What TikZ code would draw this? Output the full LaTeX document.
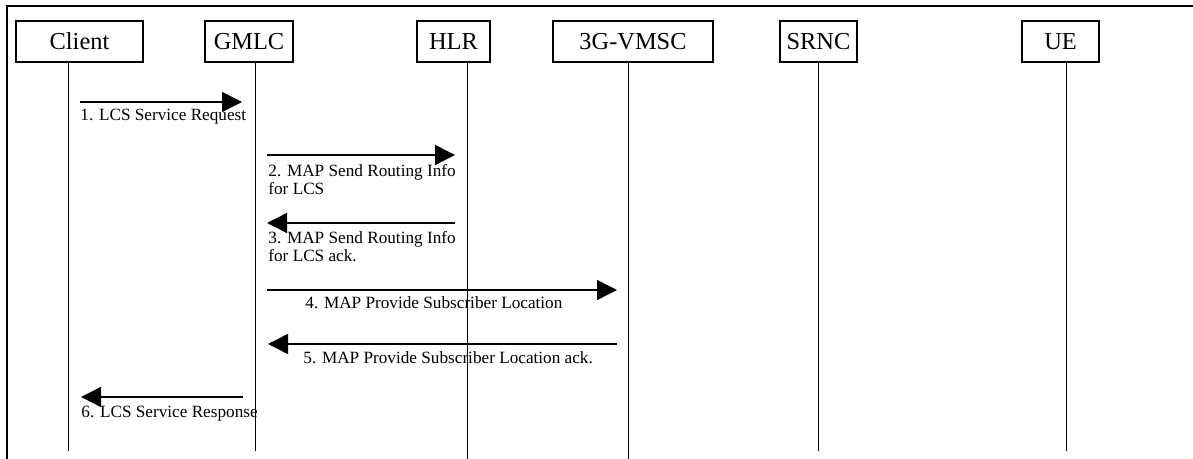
\documentclass[tikz,border=0pt]{standalone}
\usepackage{fontspec}
\setmainfont{Liberation Serif}
\usetikzlibrary{arrows.meta}

\begin{document}
\begin{tikzpicture}[x=0.5pt,y=-0.5pt,
  entity/.style={draw=black,line width=0.6pt,minimum height=20.5pt,inner sep=0pt,font=\fontsize{12.2}{14}\selectfont},
  lifeline/.style={draw=black,line width=0.5pt},
  msg/.style={draw=black,line width=0.7pt,-{Triangle[length=10pt,width=10pt]}},
  msglabel/.style={inner sep=0pt,anchor=base west,align=left,font=\fontsize{8.6}{9.3}\selectfont}]
\useasboundingbox (0,0) rectangle (1193,459);

% frame
\draw[line width=1.2pt] (7,459) -- (7,6) -- (1193,6);

% entities
\node[entity,minimum width=63.5pt] (client) at (79.5,41.5) {Client};
\node[entity,minimum width=44pt] (gmlc) at (249,41.5) {GMLC};
\node[entity,minimum width=36.5pt] (hlr) at (453.5,41.5) {HLR};
\node[entity,minimum width=80pt] (vmsc) at (633,41.5) {3G-VMSC};
\node[entity,minimum width=38.5pt] (srnc) at (818.5,41.5) {SRNC};
\node[entity,minimum width=38.5pt] (ue) at (1060.5,41.5) {UE};

% lifelines
\foreach \n/\x/\b in {client/68/451,gmlc/255/451,hlr/467/459,vmsc/628/459,srnc/818/451,ue/1066/451} {
  \coordinate (\n top) at (\x,62);
  \coordinate (\n end) at (\x,\b);
  \draw[lifeline] (\n top) -- (\n end);
}

% messages
\coordinate (m1a) at (80,102);  \coordinate (m1b) at (242,102);
\coordinate (m2a) at (267,155); \coordinate (m2b) at (455,155);
\coordinate (m3a) at (455,223); \coordinate (m3b) at (267,223);
\coordinate (m4a) at (267,290); \coordinate (m4b) at (617,290);
\coordinate (m5a) at (617,344); \coordinate (m5b) at (268,344);
\coordinate (m6a) at (243,397); \coordinate (m6b) at (81,397);

\draw[msg] (m1a) -- (m1b);
\draw[msg] (m2a) -- (m2b);
\draw[msg] (m3a) -- (m3b);
\draw[msg] (m4a) -- (m4b);
\draw[msg] (m5a) -- (m5b);
\draw[msg] (m6a) -- (m6b);

% labels (base = last line)
\node[msglabel] (l1) at (80,121) {1. LCS Service Request};
\node[msglabel] (l2) at (268,195) {2. MAP Send Routing Info\\for LCS};
\node[msglabel] (l3) at (268,262) {3. MAP Send Routing Info\\for LCS ack.};
\node[msglabel] (l4) at (305,309) {4. MAP Provide Subscriber Location};
\node[msglabel] (l5) at (303,364) {5. MAP Provide Subscriber Location ack.};
\node[msglabel] (l6) at (81,417) {6. LCS Service Response};
\end{tikzpicture}
\end{document}
